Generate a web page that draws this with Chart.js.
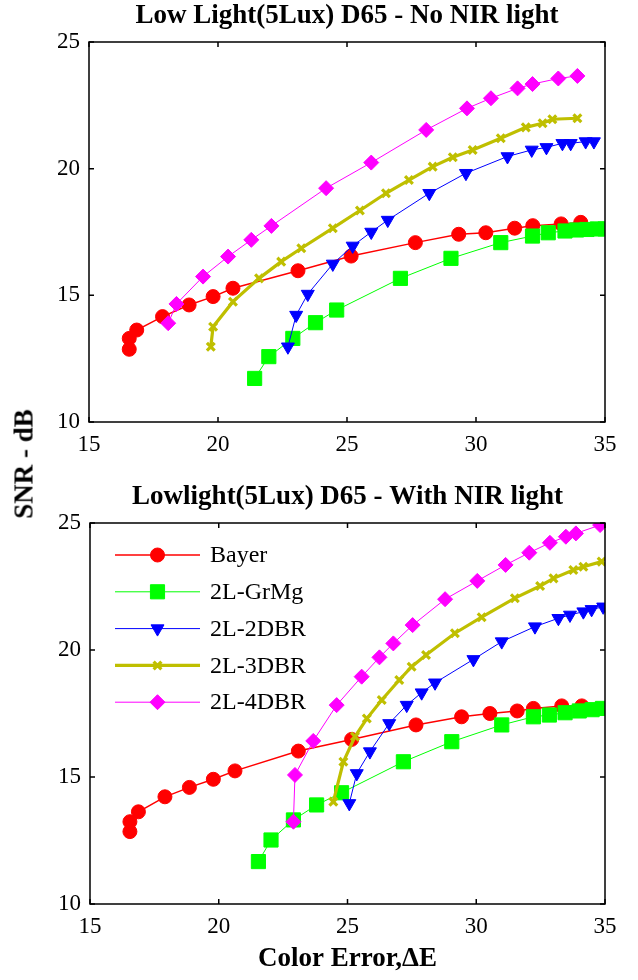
<!DOCTYPE html>
<html>
<head>
<meta charset="utf-8">
<script src="https://cdn.jsdelivr.net/npm/chart.js"></script>
<style>
  html, body { margin: 0; padding: 0; background: #fff; }
  #wrap { position: relative; width: 638px; height: 980px; overflow: hidden; }
  canvas { position: absolute; left: 0; }
  #topChart { top: 0; }
  #bottomChart { top: 481px; }
  #ylabel {
    position: absolute; left: 24px; top: 464px;
    transform: translate(-50%, -50%) rotate(-90deg);
    font: bold 27px 'Liberation Serif', 'Times New Roman', serif;
    white-space: nowrap; color: #000;
  }
</style>
</head>
<body>
<div id="wrap">
  <canvas id="topChart" width="638" height="470"></canvas>
  <canvas id="bottomChart" width="638" height="499"></canvas>
  <div id="ylabel">SNR - dB</div>
</div>
<script>
// series names, tick values and titles
const seriesNames = ['Bayer', '2L-GrMg', '2L-2DBR', '2L-3DBR', '2L-4DBR'];
const xTicks = [15, 20, 25, 30, 35];
const yTicks = [10, 15, 20, 25];
const topTitle = 'Low Light(5Lux) D65 - No NIR light';
const bottomTitle = 'Lowlight(5Lux) D65 - With NIR light';

// [color error, SNR] - no NIR light
const bayerNoNir = [[16.56,12.87],[16.56,13.3],[16.85,13.63],[17.85,14.16],[18.88,14.62],[19.81,14.95],[20.58,15.28],[23.1,15.97],[25.16,16.55],[27.65,17.08],[29.33,17.41],[30.38,17.47],[31.5,17.65],[32.2,17.75],[33.3,17.82],[34.06,17.88]];
const grmgNoNir = [[21.42,11.72],[21.97,12.58],[22.9,13.3],[23.78,13.92],[24.6,14.42],[27.07,15.67],[29.03,16.46],[30.96,17.08],[32.19,17.34],[32.8,17.47],[33.45,17.54],[33.9,17.58],[34.3,17.6],[34.7,17.62],[35.0,17.62]];
const dbr2NoNir = [[22.71,12.97],[23.03,14.22],[23.48,15.05],[24.45,16.24],[25.22,16.95],[25.94,17.5],[26.58,17.97],[28.19,19.03],[29.61,19.82],[31.22,20.48],[32.16,20.74],[32.73,20.84],[33.35,21.0],[33.67,21.0],[34.25,21.07],[34.57,21.07]];
const dbr3NoNir = [[19.72,12.97],[19.81,13.76],[20.58,14.75],[21.59,15.67],[22.45,16.33],[23.23,16.86],[24.45,17.65],[25.5,18.35],[26.51,19.03],[27.4,19.55],[28.32,20.08],[29.1,20.45],[29.87,20.74],[30.96,21.2],[31.93,21.63],[32.58,21.79],[32.96,21.95],[33.93,21.99]];
const dbr4NoNir = [[18.07,13.9],[18.39,14.66],[19.42,15.74],[20.39,16.53],[21.29,17.19],[22.07,17.74],[24.19,19.23],[25.94,20.24],[28.07,21.53],[29.65,22.38],[30.58,22.78],[31.61,23.17],[32.19,23.34],[33.19,23.56],[33.93,23.66]];

// with NIR light
const bayerNir = [[16.55,12.85],[16.55,13.24],[16.88,13.63],[17.91,14.22],[18.86,14.59],[19.79,14.91],[20.63,15.24],[23.09,16.02],[25.16,16.48],[27.66,17.05],[29.43,17.37],[30.53,17.5],[31.59,17.6],[32.22,17.7],[33.32,17.8],[34.1,17.8]];
const grmgNir = [[21.54,11.67],[22.03,12.52],[22.9,13.31],[23.8,13.9],[24.77,14.38],[27.17,15.6],[29.05,16.39],[30.99,17.05],[32.22,17.37],[32.84,17.44],[33.45,17.53],[34.0,17.6],[34.5,17.65],[34.9,17.7]];
const dbr2Nir = [[25.07,13.96],[25.36,15.14],[25.87,16.0],[26.62,17.11],[27.3,17.83],[27.88,18.32],[28.4,18.71],[29.89,19.63],[30.99,20.33],[32.28,20.92],[33.19,21.25],[33.64,21.38],[34.16,21.51],[34.48,21.6],[34.93,21.7]];
const dbr3Nir = [[24.45,14.03],[24.84,15.6],[25.29,16.59],[25.75,17.3],[26.33,18.03],[27.01,18.82],[27.49,19.34],[28.05,19.8],[29.17,20.66],[30.21,21.29],[31.5,22.04],[32.48,22.52],[33.0,22.82],[33.77,23.15],[34.16,23.28],[34.87,23.48]];
const dbr4Nir = [[22.9,13.24],[22.96,15.08],[23.67,16.42],[24.58,17.83],[25.55,18.95],[26.24,19.71],[26.78,20.26],[27.53,20.98],[28.79,22.0],[30.04,22.72],[31.14,23.35],[32.06,23.83],[32.86,24.22],[33.48,24.46],[33.87,24.59],[34.81,24.92]];

const serif = "'Liberation Serif', 'Times New Roman', serif";

// marker / line look per series (matlab-ish)
const looks = [
  { color: '#ff0000', style: 'circle', radius: 7, rot: 0, width: 1.5, pw: 1 },
  { color: '#00ff00', style: 'rect', radius: 10, rot: 0, width: 1, pw: 1 },
  { color: '#0000ff', style: 'triangle', radius: 7.5, rot: 180, width: 1, pw: 1 },
  { color: '#bfbf00', style: 'crossRot', radius: 5.5, rot: 0, width: 3.2, pw: 3.2 },
  { color: '#ff00ff', style: 'rectRot', radius: 7.5, rot: 0, width: 1, pw: 1 }
];

function makeSets(lists) {
  return lists.map((pts, i) => {
    const l = looks[i];
    return {
      label: seriesNames[i],
      data: pts.map(p => ({ x: p[0], y: p[1] })),
      showLine: true,
      borderColor: l.color,
      backgroundColor: l.color,
      borderWidth: l.width,
      pointStyle: l.style,
      pointRadius: l.radius,
      pointRotation: l.rot,
      pointBorderWidth: l.pw,
      pointHoverRadius: l.radius,
      tension: 0,
      order: 5 - i
    };
  });
}

// box around the plot with inward ticks on all four sides
const boxTicks = {
  id: 'boxTicks',
  afterDatasetsDraw(chart) {
    const { ctx, chartArea: a, scales: { x, y } } = chart;
    ctx.save();
    ctx.strokeStyle = '#000';
    ctx.lineWidth = 1.5;
    ctx.strokeRect(a.left, a.top, a.right - a.left, a.bottom - a.top);
    ctx.beginPath();
    x.ticks.forEach(t => {
      const px = x.getPixelForValue(t.value);
      ctx.moveTo(px, a.bottom); ctx.lineTo(px, a.bottom - 5);
      ctx.moveTo(px, a.top); ctx.lineTo(px, a.top + 5);
    });
    y.ticks.forEach(t => {
      const py = y.getPixelForValue(t.value);
      ctx.moveTo(a.left, py); ctx.lineTo(a.left + 5, py);
      ctx.moveTo(a.right, py); ctx.lineTo(a.right - 5, py);
    });
    ctx.stroke();
    ctx.restore();
  }
};

// legend drawn as line + marker + name, like matlab
const lineLegend = {
  id: 'lineLegend',
  afterDraw(chart) {
    const ctx = chart.ctx;
    const x0 = 115, x1 = 200, tx = 210, y0 = 74, step = 36.8;
    ctx.save();
    chart.data.datasets.forEach((ds, i) => {
      const yy = y0 + i * step;
      ctx.strokeStyle = ds.borderColor;
      ctx.fillStyle = ds.backgroundColor;
      ctx.lineWidth = ds.borderWidth;
      ctx.beginPath();
      ctx.moveTo(x0, yy); ctx.lineTo(x1, yy);
      ctx.stroke();
      ctx.lineWidth = ds.pointBorderWidth;
      Chart.helpers.drawPoint(ctx, {
        pointStyle: ds.pointStyle, rotation: ds.pointRotation,
        radius: ds.pointRadius, borderWidth: ds.pointBorderWidth
      }, (x0 + x1) / 2, yy);
      ctx.fillStyle = '#000';
      ctx.font = '24px ' + serif;
      ctx.textAlign = 'left';
      ctx.textBaseline = 'middle';
      ctx.fillText(ds.label, tx, yy + 1);
    });
    ctx.restore();
  }
};

function makeChart(id, title, lists, yWidth, xHeight, withXTitle, extra) {
  return new Chart(document.getElementById(id), {
    type: 'scatter',
    data: { datasets: makeSets(lists) },
    options: {
      responsive: false,
      animation: false,
      devicePixelRatio: 1,
      layout: { padding: { left: 0, right: 33, top: 0, bottom: 0 } },
      plugins: {
        legend: { display: false },
        tooltip: { enabled: false },
        title: {
          display: true, text: title, fullSize: false, color: '#000',
          font: { family: serif, size: 27, weight: 'bold', lineHeight: 1.2 },
          padding: { top: 0, bottom: 9.6 }
        }
      },
      scales: {
        x: {
          type: 'linear', min: 15, max: 35,
          afterBuildTicks: s => { s.ticks = xTicks.map(v => ({ value: v })); },
          afterFit: s => { s.height = xHeight; },
          grid: { display: false, drawTicks: false },
          border: { display: false },
          ticks: { color: '#000', padding: 9, maxRotation: 0, font: { family: serif, size: 23 } },
          title: {
            display: withXTitle, text: 'Color Error,\u0394E', color: '#000',
            font: { family: serif, size: 27, weight: 'bold', lineHeight: 1.2 },
            padding: { top: 0, bottom: 5 }
          }
        },
        y: {
          type: 'linear', min: 10, max: 25,
          afterBuildTicks: s => { s.ticks = yTicks.map(v => ({ value: v })); },
          afterFit: s => { s.width = yWidth; },
          grid: { display: false, drawTicks: false },
          border: { display: false },
          ticks: { color: '#000', padding: 9, font: { family: serif, size: 23 } }
        }
      }
    },
    plugins: [boxTicks].concat(extra)
  });
}

makeChart('topChart', topTitle, [bayerNoNir, grmgNoNir, dbr2NoNir, dbr3NoNir, dbr4NoNir], 89, 48, false, []);
makeChart('bottomChart', bottomTitle, [bayerNir, grmgNir, dbr2Nir, dbr3Nir, dbr4Nir], 90, 76, true, [lineLegend]);
</script>
</body>
</html>
